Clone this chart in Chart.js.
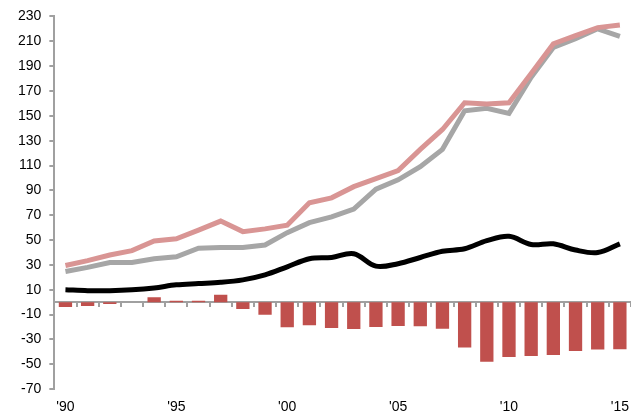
<!DOCTYPE html>
<html>
<head>
<meta charset="utf-8">
<script src="https://cdn.jsdelivr.net/npm/chart.js@4/dist/chart.umd.min.js"></script>
<style>
  html, body { margin: 0; padding: 0; background: #fff; }
  #wrap { width: 631px; height: 416px; }
</style>
</head>
<body>
<div id="wrap"><canvas id="chart" width="631" height="416"></canvas></div>
<script>
const years = ["1990","1991","1992","1993","1994","1995","1996","1997","1998","1999",
  "2000","2001","2002","2003","2004","2005","2006","2007","2008","2009",
  "2010","2011","2012","2013","2014","2015"];
const pinkSeries = [29.5, 33.5, 38, 41.5, 49.3, 51, 58, 65.3, 56.8, 59, 62, 80, 84, 93, 99.5, 106, 123, 139, 160.5, 159.5, 160.5, 184, 208, 214.5, 221, 223];
const graySeries = [24.7, 28, 32, 32, 35, 36.5, 43.4, 44, 44, 46, 56, 64, 68.7, 75, 91, 98.5, 109, 123, 154, 156, 152, 181, 205, 212, 220, 214];
const blackSeries = [10, 9.3, 9.3, 10, 11.5, 14, 15, 16, 18, 22, 28.5, 35, 36, 39, 29, 31, 36, 41, 43, 49.5, 53, 46.5, 47, 42, 40, 47];
const barSeries = [-3.9, -3, -1.5, 0, 4, 1.2, 1.2, 6, -5.5, -10, -20.2, -18.6, -20.8, -21.5, -20, -19.1, -19.3, -21.3, -36.5, -48, -44, -43.2, -42.4, -39.2, -38.1, -37.9];
const yTicks = [-70, -50, -30, -10, 10, 30, 50, 70, 90, 110, 130, 150, 170, 190, 210, 230];

const axisGray = "#a0a0a0";
const font = { family: "'Liberation Sans', Arial, sans-serif", size: 14 };

new Chart(document.getElementById("chart"), {
  data: {
    labels: years,
    datasets: [
      { type: "line", data: blackSeries, borderColor: "#000", borderWidth: 5, pointRadius: 0, tension: 0.35, order: 0 },
      { type: "line", data: pinkSeries, borderColor: "#d99594", borderWidth: 5, pointRadius: 0, tension: 0, order: 1 },
      { type: "line", data: graySeries, borderColor: "#a6a6a6", borderWidth: 5, pointRadius: 0, tension: 0, order: 2 },
      { type: "bar", data: barSeries, backgroundColor: "#c0504d", barPercentage: 0.6, categoryPercentage: 1, order: 3 }
    ]
  },
  options: {
    responsive: false,
    animation: false,
    layout: { padding: { left: 10, top: 4, right: 0, bottom: -2 } },
    plugins: { legend: { display: false }, tooltip: { enabled: false } },
    scales: {
      x: {
        offset: true,
        border: { display: false },
        grid: { display: false },
        ticks: {
          autoSkip: false, maxRotation: 0, color: "#000", font: font, padding: 2,
          callback: function (v, i) {
            const y = years[i];
            return (+y) % 5 === 0 ? "'" + y.slice(2) : "";
          }
        }
      },
      x2: {
        type: "category",
        labels: years,
        position: { y: 0 },
        offset: true,
        z: 1,
        border: { display: true, color: axisGray, width: 2 },
        grid: { offset: true, drawOnChartArea: false, drawTicks: true, tickLength: 4, color: axisGray, lineWidth: 2 },
        ticks: { display: false }
      },
      y: {
        min: -70, max: 230,
        afterBuildTicks: function (axis) { axis.ticks = yTicks.map(v => ({ value: v })); },
        border: { display: true, color: axisGray, width: 2 },
        grid: { drawOnChartArea: false, drawTicks: true, tickLength: 5, color: axisGray, lineWidth: 2 },
        ticks: { color: "#000", font: font, padding: 8 }
      }
    }
  }
});
</script>
</body>
</html>
